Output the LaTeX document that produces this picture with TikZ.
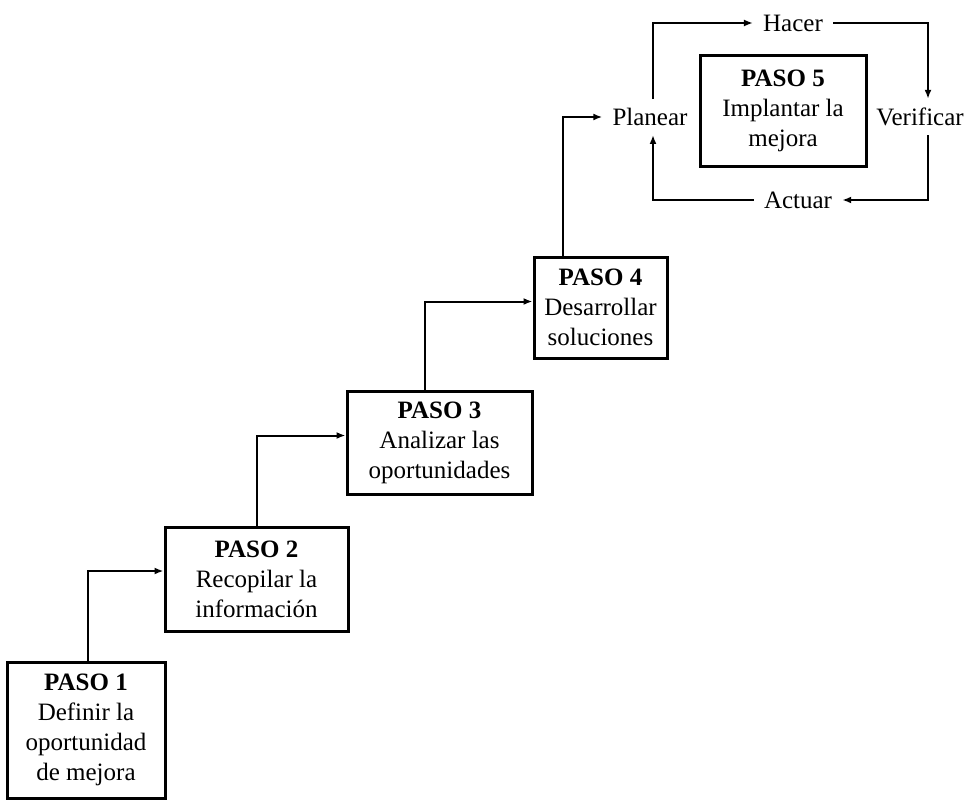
\documentclass[tikz,border=0pt]{standalone}
\usepackage{fontspec}
\setmainfont{Liberation Serif}
\usetikzlibrary{arrows.meta}
\begin{document}
\begin{tikzpicture}[x=1pt,y=-1pt,
  stepbox/.style={draw, line width=3pt, align=center, inner sep=0pt,
    font=\fontsize{25}{30}\selectfont},
  cyclabel/.style={inner xsep=10pt, inner ysep=9pt,
    font=\fontsize{25}{30}\selectfont},
  conn/.style={line width=2pt, -{Latex[length=9pt,width=7pt]}},
  plain/.style={line width=2pt}]
\useasboundingbox (0,0) rectangle (972,800);

% the five steps
\node[stepbox, minimum width=158pt, minimum height=136pt] (p1) at (86,730)
  {\textbf{PASO 1}\\Definir la\\oportunidad\\de mejora};
\node[stepbox, minimum width=183pt, minimum height=104pt] (p2) at (256.5,579)
  {\textbf{PASO 2}\\Recopilar la\\información};
\node[stepbox, minimum width=185pt, minimum height=103pt] (p3) at (439.5,442.5)
  {\textbf{PASO 3}\\Analizar las\\oportunidades};
\node[stepbox, minimum width=133pt, minimum height=101pt] (p4) at (600.5,307.5)
  {\textbf{PASO 4}\\Desarrollar\\soluciones};
\node[stepbox, minimum width=166pt, minimum height=110pt] (p5) at (783,111)
  {\textbf{PASO 5}\\Implantar la\\mejora};

% PDCA cycle labels
\node[cyclabel] (plan) at (650,117) {Planear};
\node[cyclabel] (hacer) at (793,23) {Hacer};
\node[cyclabel] (verif) at (920,117) {Verificar};
\node[cyclabel] (actuar) at (798,200) {Actuar};

% staircase connectors
\draw[conn] ([xshift=2pt]p1.north) |- ([yshift=8pt]p2.west);
\draw[conn] (p2.north) |- ([yshift=7pt]p3.west);
\draw[conn] ([xshift=-15pt]p3.north) |- ([yshift=6pt]p4.west);
\draw[conn] ([xshift=-38pt]p4.north) |- (plan.west);

% cycle
\draw[conn] ([xshift=3pt]plan.north) |- (hacer.east -| hacer.west);
\draw[conn] (hacer.east) -| ([xshift=8pt]verif.north);
\draw[conn] ([xshift=8pt]verif.south) |- (actuar.east);
\draw[conn] (actuar.west) -| ([xshift=3pt]plan.south);
\end{tikzpicture}
\end{document}
